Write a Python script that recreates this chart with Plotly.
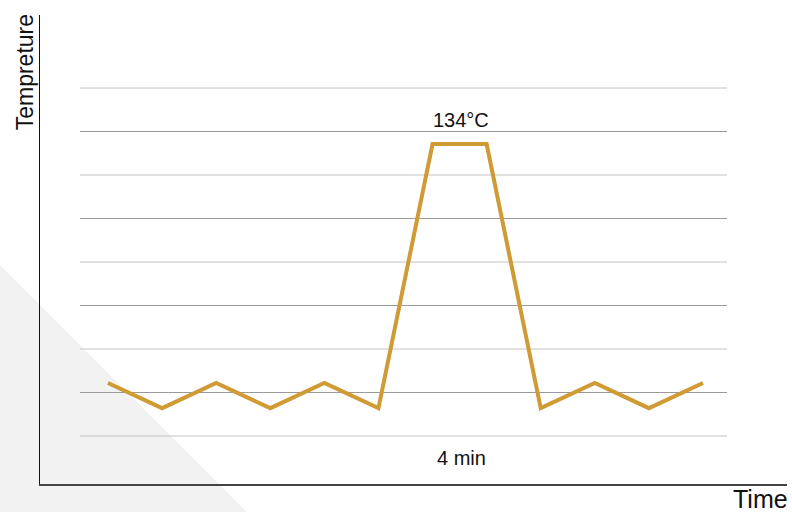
import plotly.graph_objects as go

# data
time_idx = [0, 1, 2, 3, 4, 5, 6, 7, 8, 9, 10, 11]
temp_level = [1.22, 0.64, 1.22, 0.64, 1.22, 0.64, 6.71, 6.71, 0.64, 1.22, 0.64, 1.22]
grid_levels = [0, 1, 2, 3, 4, 5, 6, 7, 8]
peak_label = "134°C"
duration_label = "4 min"
x_title = "Time"
y_title = "Tempreture"

FONT = "Liberation Sans, Arial, Helvetica, sans-serif"
LINE_COLOR = "#D09A34"

fig = go.Figure()
fig.add_trace(go.Scatter(
    x=time_idx, y=temp_level, mode="lines",
    line=dict(color=LINE_COLOR, width=4), hoverinfo="skip", showlegend=False,
))

shapes = []
# background triangle
shapes.append(dict(type="path", xref="paper", yref="paper",
                   path="M -0.0535,0.467 L -0.0535,-0.06 L 0.277,-0.06 Z",
                   fillcolor="#f2f2f2", line=dict(width=0), layer="below"))
for i, g in enumerate(grid_levels):
    shapes.append(dict(type="line", xref="paper", yref="y",
                       x0=0.0535, x1=0.9197, y0=g, y1=g,
                       line=dict(color="#c4c4c4" if i % 2 == 0 else "#9a9a9a", width=1),
                       layer="below"))

annotations = [
    dict(x=6.53, y=7.26, xref="x", yref="y", text=peak_label, showarrow=False,
         font=dict(family=FONT, size=20, color="#111")),
    dict(x=6.53, y=-0.51, xref="x", yref="y", text=duration_label, showarrow=False,
         font=dict(family=FONT, size=20, color="#111")),
    dict(x=0.925, y=-0.033, xref="paper", yref="paper", text=x_title, showarrow=False,
         font=dict(family=FONT, size=25, color="#111"), xanchor="left", yanchor="middle"),
    dict(x=-0.020, y=0.878, xref="paper", yref="paper", text=y_title, showarrow=False,
         textangle=-90, font=dict(family=FONT, size=23, color="#111"),
         xanchor="center", yanchor="middle"),
]

fig.update_layout(
    width=792, height=512,
    margin=dict(l=40, r=5, t=15, b=28),
    paper_bgcolor="white", plot_bgcolor="rgba(0,0,0,0)",
    shapes=shapes, annotations=annotations,
    xaxis=dict(range=[-1.257, 12.553], showgrid=False, zeroline=False,
               showticklabels=False, ticks="", showline=True,
               linecolor="#444", linewidth=2, fixedrange=True),
    yaxis=dict(range=[-1.103, 9.678], showgrid=False, zeroline=False,
               showticklabels=False, ticks="", showline=True,
               linecolor="#111", linewidth=1, fixedrange=True),
)

fig.write_html("out.html", config={"displayModeBar": False},
               post_script="document.body.style.margin='0';")
